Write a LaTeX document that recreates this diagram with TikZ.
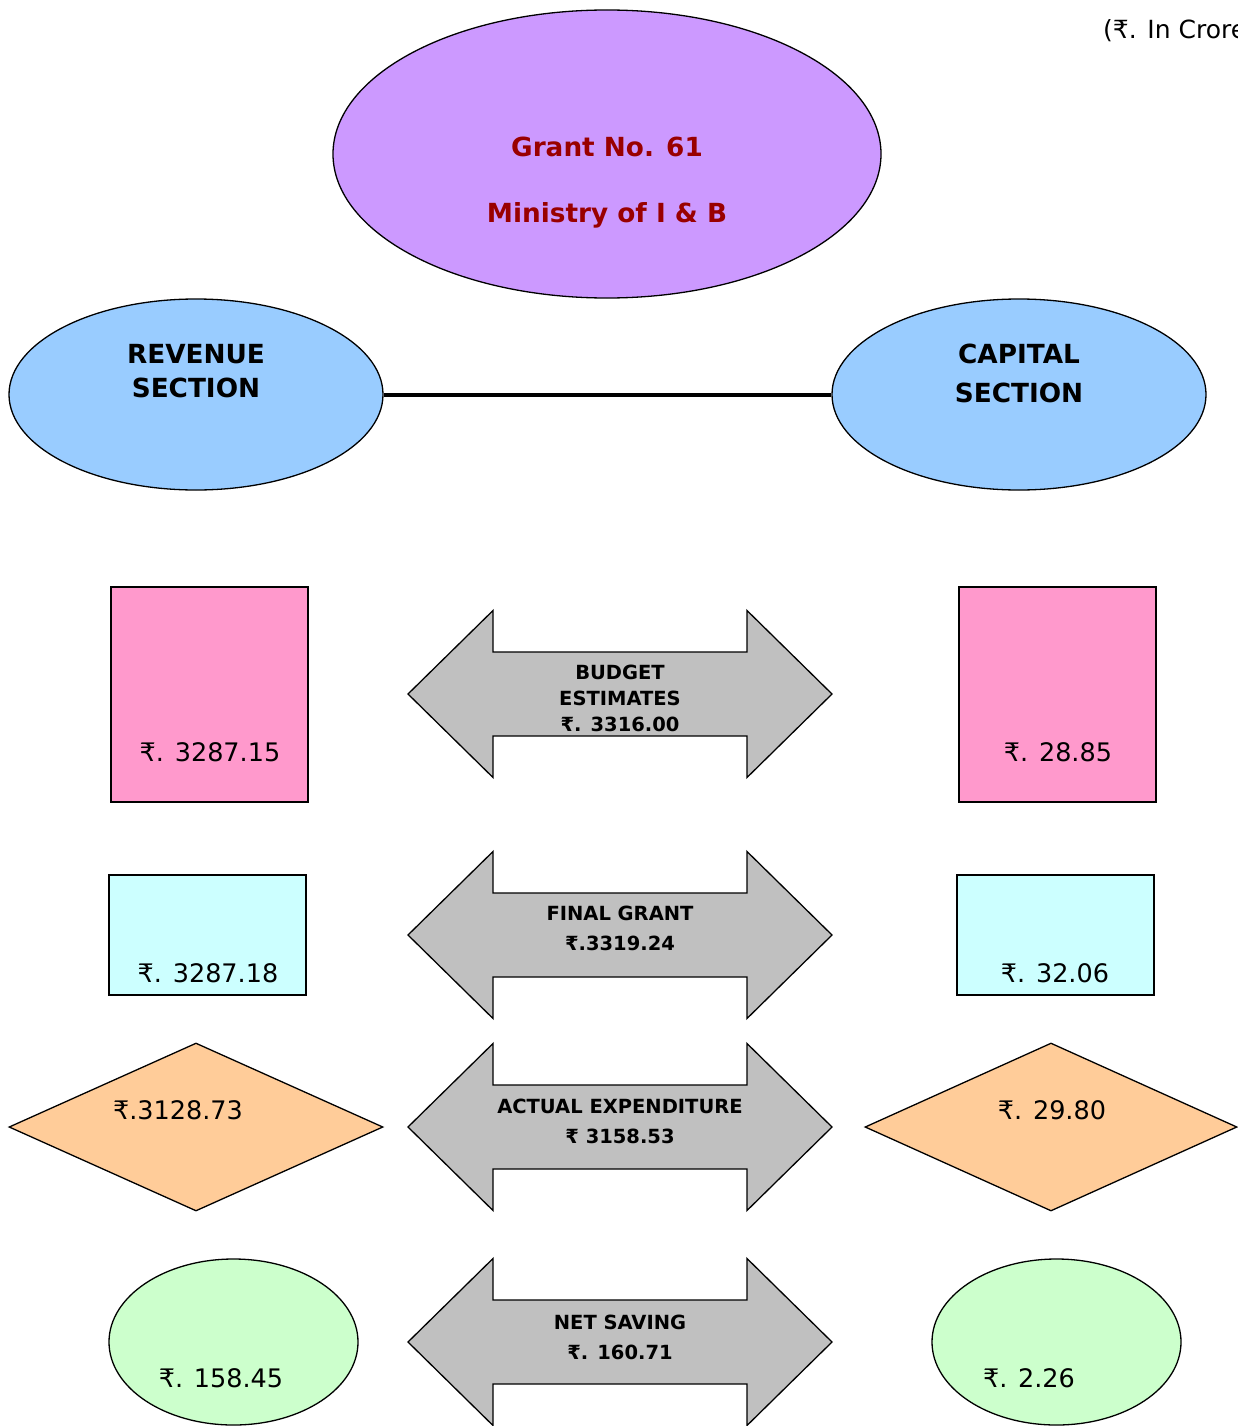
\documentclass[tikz,border=0pt]{standalone}
\usepackage{fontspec}
\setmainfont{DejaVu Sans}
\usetikzlibrary{shapes.geometric}
\definecolor{lilac}{HTML}{CC99FF}
\definecolor{skyb}{HTML}{99CCFF}
\definecolor{pinkb}{HTML}{FF99CC}
\definecolor{cyanb}{HTML}{CCFFFF}
\definecolor{peach}{HTML}{FFCC99}
\definecolor{mint}{HTML}{CCFFCC}
\definecolor{greyarrow}{HTML}{C0C0C0}
\definecolor{darkred}{HTML}{990000}
\tikzset{
  outline/.style={draw=black, line width=1.3pt},
  ell/.style={outline, ellipse, inner sep=0pt},
  box/.style={outline, rectangle, inner sep=0pt},
  dia/.style={outline, diamond, inner sep=0pt},
  valtext/.style={font=\fontsize{25.5}{30}\selectfont, inner sep=0pt},
  headtext/.style={font=\bfseries\fontsize{26.3}{30}\selectfont, inner sep=0pt, align=center},
  arrtext/.style={font=\bfseries\fontsize{19.5}{26}\selectfont, inner sep=0pt, align=center}
}
% #1 name, #2 centre y, #3 text y, #4 text
\newcommand\grantarrow[4]{%
  \coordinate (#1) at (620,#2);
  \fill[greyarrow] ([xshift=-212pt]#1) -- ++(85,-83.5) -- ++(0,41.5) -- ++(254,0) -- ++(0,-41.5) -- ([xshift=212pt]#1) -- ++(-85,83.5) -- ++(0,-41.5) -- ++(-254,0) -- ++(0,41.5) -- cycle;
  \node[arrtext] (#1txt) at (620,#3) {#4};
  \draw[outline, line join=miter] ([xshift=-212pt]#1) -- ++(85,-83.5) -- ++(0,41.5) -- ++(254,0) -- ++(0,-41.5) -- ([xshift=212pt]#1) -- ++(-85,83.5) -- ++(0,-41.5) -- ++(-254,0) -- ++(0,41.5) -- cycle;
}
\begin{document}
\begin{tikzpicture}[x=1pt,y=-1pt]
\useasboundingbox (0,0) rectangle (1237,1426);
\fill[white] (0,0) rectangle (1237,1426);

% unit note
\node[font=\fontsize{25}{29}\selectfont, anchor=west, inner sep=0pt] (unit) at (1103,31) {(₹. In Crores)};

% top ellipse
\node[ell, fill=lilac, minimum width=548pt, minimum height=288pt] (grant) at (607,154) {};
\node[headtext, text=darkred] (grantA) at (607,147) {Grant No. 61};
\node[headtext, text=darkred] (grantB) at (607,215) {Ministry of I \& B};

% sections
\node[ell, fill=skyb, minimum width=374pt, minimum height=191pt] (rev) at (196,394.5) {};
\node[ell, fill=skyb, minimum width=374pt, minimum height=191pt] (cap) at (1019,394.5) {};
\draw[line width=4pt] (rev.east) -- (cap.west);
\node[headtext] (revA) at (196,354) {REVENUE};
\node[headtext] (revB) at (196,388) {SECTION};
\node[headtext] (capA) at (1019,354) {CAPITAL};
\node[headtext] (capB) at (1019,393) {SECTION};

% budget estimates
\node[box, fill=pinkb, minimum width=197pt, minimum height=215pt] (beL) at (209.5,694.5) {};
\node[valtext] (beLt) at (210,752) {₹. 3287.15};
\node[box, fill=pinkb, minimum width=197pt, minimum height=215pt] (beR) at (1057.5,694.5) {};
\node[valtext] (beRt) at (1058,752) {₹. 28.85};
\grantarrow{be}{694}{698}{BUDGET\\ESTIMATES\\₹. 3316.00}

% final grant
\node[box, fill=cyanb, minimum width=197pt, minimum height=120pt] (fgL) at (207.5,935) {};
\node[valtext] (fgLt) at (208,973) {₹. 3287.18};
\node[box, fill=cyanb, minimum width=197pt, minimum height=120pt] (fgR) at (1055.5,935) {};
\node[valtext] (fgRt) at (1055,973) {₹. 32.06};
\grantarrow{fg}{935}{928}{FINAL GRANT\\[4pt]₹.3319.24}

% actual expenditure
\node[dia, fill=peach, minimum width=374pt, minimum height=168pt, aspect=2.2] (aeL) at (196,1127) {};
\node[valtext] (aeLt) at (178,1110) {₹.3128.73};
\node[dia, fill=peach, minimum width=372pt, minimum height=168pt, aspect=2.2] (aeR) at (1051,1127) {};
\node[valtext] (aeRt) at (1052,1110) {₹. 29.80};
\grantarrow{ae}{1127}{1121}{ACTUAL EXPENDITURE\\[4pt]₹ 3158.53}

% net saving
\node[ell, fill=mint, minimum width=249pt, minimum height=166pt] (nsL) at (233.5,1342) {};
\node[valtext] (nsLt) at (221,1378) {₹. 158.45};
\node[ell, fill=mint, minimum width=249pt, minimum height=166pt] (nsR) at (1056.5,1342) {};
\node[valtext] (nsRt) at (1029,1378) {₹. 2.26};
\grantarrow{ns}{1342}{1337}{NET SAVING\\[4pt]₹. 160.71}

\end{tikzpicture}
\end{document}
